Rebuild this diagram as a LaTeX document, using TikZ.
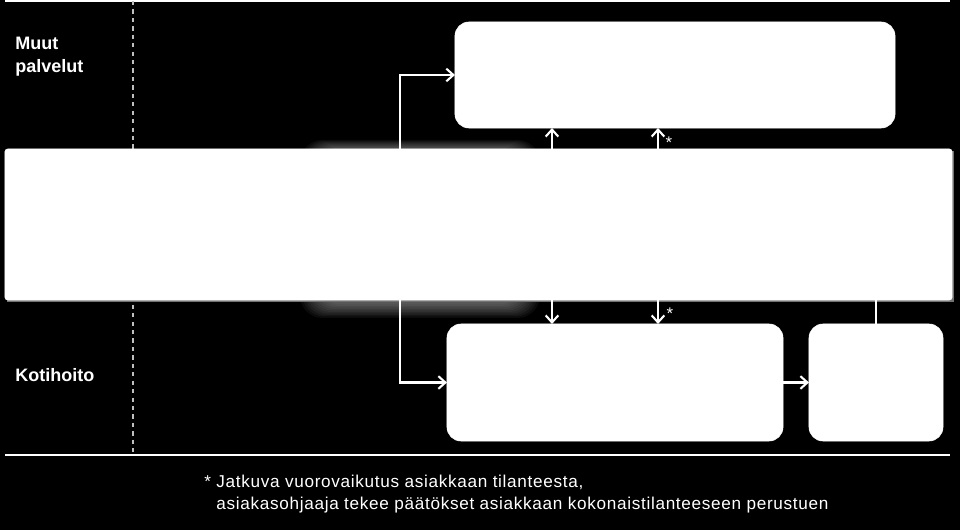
\documentclass[tikz,border=0pt]{standalone}
\usepackage{fontspec}
\setmainfont{Liberation Sans}
\newfontfamily\notefont[LetterSpace=4]{Liberation Sans}
\usetikzlibrary{arrows.meta}

\tikzset{
    box/.style={fill=white, draw=white, rounded corners=10pt, inner sep=0pt, outer sep=0pt},
    flow/.style={white, line width=1.5pt, ->},
    link/.style={white, line width=1.5pt},
    lane/.style={white, anchor=west, align=left, inner sep=0pt, font=\bfseries\fontsize{12.8}{16.4}\selectfont},
    mark note/.style={white, inner sep=0pt, font=\fontsize{12}{12}\selectfont},
}

\begin{document}
\begin{tikzpicture}[x=0.025cm, y=-0.025cm, >={Straight Barb[length=5pt, width=9pt]}]
        \fill[black] (0,0) rectangle (960,530);
        \useasboundingbox (0,0) rectangle (960,530);
        \coordinate (split) at (400,0);
        \coordinate (a) at (552,0);
        \coordinate (b) at (658,0);
        \draw[white, line width=1pt] (5,1) -- (950,1);
        \draw[white, line width=1pt] (5,455) -- (950,455);
        \draw[white!75!black, line width=0.8pt, dashed] (133,1) -- (133,455);
        \node[lane] (muut) at (15,57) {Muut\\palvelut};
        \node[lane] (koti) at (15,375) {Kotihoito};
        \foreach \g in {0,...,9}
            \fill[white, opacity=0.045, rounded corners=16] (300+2*\g,140+\g) rectangle (540-2*\g,318-1.5*\g);
        \fill[white!45!black] (7,151) rectangle (954,302);
        \node[box, rounded corners=2pt, minimum width=23.675cm, minimum height=3.775cm] (band) at (478.5,224.5) {};
        \node[box, minimum width=11cm, minimum height=2.65cm] (muutbox) at (675,75) {};
        \node[box, minimum width=8.4cm, minimum height=2.925cm] (kotibox) at (615,382.5) {};
        \node[box, minimum width=3.35cm, minimum height=2.925cm] (endbox) at (876,382.5) {};
        \draw[flow] (band.north -| split) |- (muutbox.west);
        \draw[flow] (band.south -| split) |- (kotibox.west);
        \draw[flow] (band.north -| a) -- (muutbox.south -| a);
        \draw[flow] (band.north -| b) -- (muutbox.south -| b);
        \draw[flow] (band.south -| a) -- (kotibox.north -| a);
        \draw[flow] (band.south -| b) -- (kotibox.north -| b);
        \draw[flow] (kotibox) -- (endbox);
        \draw[link] (band.south -| endbox) -- (endbox.north);
        \node[mark note] (up note) at (669,143) {*};
        \node[mark note] (down note) at (670,314) {*};
        \node[white, anchor=west, align=left, inner sep=0pt, font=\notefont\fontsize{12.2}{15.6}\selectfont] (note) at (204,494)
            {* Jatkuva vuorovaikutus asiakkaan tilanteesta,\\\hphantom{* }asiakasohjaaja tekee päätökset asiakkaan kokonaistilanteeseen perustuen};
    \end{tikzpicture}
\end{document}
